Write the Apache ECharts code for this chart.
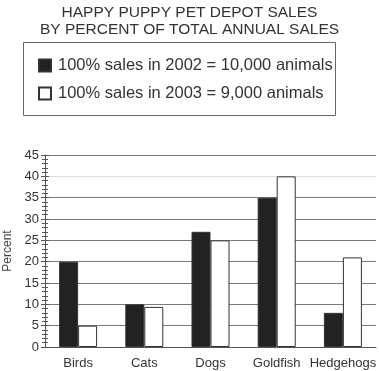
<!DOCTYPE html>
<html>
<head>
<meta charset="utf-8">
<script src="https://cdn.jsdelivr.net/npm/echarts@6/dist/echarts.min.js"></script>
<style>html,body{margin:0;padding:0;background:#fff;}#c{width:379px;height:371px;}</style>
</head>
<body>
<div id="c"></div>
<script>
var titleLines = ['HAPPY PUPPY PET DEPOT SALES', 'BY PERCENT OF TOTAL ANNUAL SALES'];
var categories = ['Birds', 'Cats', 'Dogs', 'Goldfish', 'Hedgehogs'];
var seriesNames = ['100% sales in 2002 = 10,000 animals', '100% sales in 2003 = 9,000 animals'];
var sales2002 = [20, 10, 27, 35, 8];
var sales2003 = [5, 9.4, 25, 40, 21];
var yTicks = [0, 5, 10, 15, 20, 25, 30, 35, 40, 45];

var FONT = '"Liberation Sans", Arial, sans-serif';
var chart = echarts.init(document.getElementById('c'), null, {renderer: 'canvas'});
var gridColors = yTicks.map(function (v) { return v === 40 ? '#dddddd' : '#7a7a7a'; });

chart.setOption({
  animation: false,
  backgroundColor: '#fff',
  title: {
    text: titleLines.join('\n'),
    left: 'center',
    top: -1,
    textStyle: {fontFamily: FONT, fontSize: 15.5, fontWeight: 'normal', color: '#333', lineHeight: 17}
  },
  graphic: [{
    type: 'rect',
    shape: {x: 23.5, y: 42.5, width: 312, height: 73},
    style: {fill: 'none', stroke: '#666', lineWidth: 1}
  }],
  legend: {
    orient: 'vertical',
    left: 33,
    top: 52,
    itemWidth: 12,
    itemHeight: 12,
    itemGap: 11,
    icon: 'rect',
    textStyle: {fontFamily: FONT, fontSize: 16.5, color: '#333', padding: [0, 0, 0, 2]},
    data: seriesNames
  },
  grid: {left: 45, right: 3, top: 155, bottom: 24, containLabel: false, outerBoundsMode: 'none'},
  xAxis: {
    type: 'category',
    data: categories,
    axisLine: {show: true, lineStyle: {color: '#555', width: 1}},
    axisTick: {show: false},
    axisLabel: {interval: 0, fontFamily: FONT, fontSize: 13, color: '#333', margin: 10}
  },
  yAxis: [{
    type: 'value',
    min: 0, max: 45, interval: 5,
    name: 'Percent',
    nameLocation: 'middle',
    nameGap: 30,
    nameTextStyle: {fontFamily: FONT, fontSize: 12, color: '#444'},
    axisLine: {show: true, lineStyle: {color: '#555', width: 1}},
    axisTick: {show: true, inside: false, length: 4, lineStyle: {color: '#555'}},
    minorTick: {show: true, splitNumber: 5, length: 3, lineStyle: {color: '#555'}},
    axisLabel: {fontFamily: FONT, fontSize: 13, color: '#333', margin: 6},
    splitLine: {show: true, lineStyle: {color: gridColors, width: 1}}
  }, {
    type: 'value',
    position: 'left',
    min: 0, max: 45, interval: 5,
    axisLine: {show: false},
    axisTick: {show: true, inside: true, length: 4, lineStyle: {color: '#555'}},
    minorTick: {show: true, splitNumber: 5, length: 3, lineStyle: {color: '#555'}},
    axisLabel: {show: false},
    splitLine: {show: false}
  }],
  series: [{
    name: seriesNames[0],
    type: 'bar',
    data: sales2002,
    barWidth: 19,
    barGap: '0%',
    itemStyle: {color: '#222', borderColor: '#333', borderWidth: 1}
  }, {
    name: seriesNames[1],
    type: 'bar',
    data: sales2003,
    barWidth: 19,
    barGap: '0%',
    itemStyle: {color: '#fff', borderColor: '#333', borderWidth: 1}
  }]
});
</script>
</body>
</html>
